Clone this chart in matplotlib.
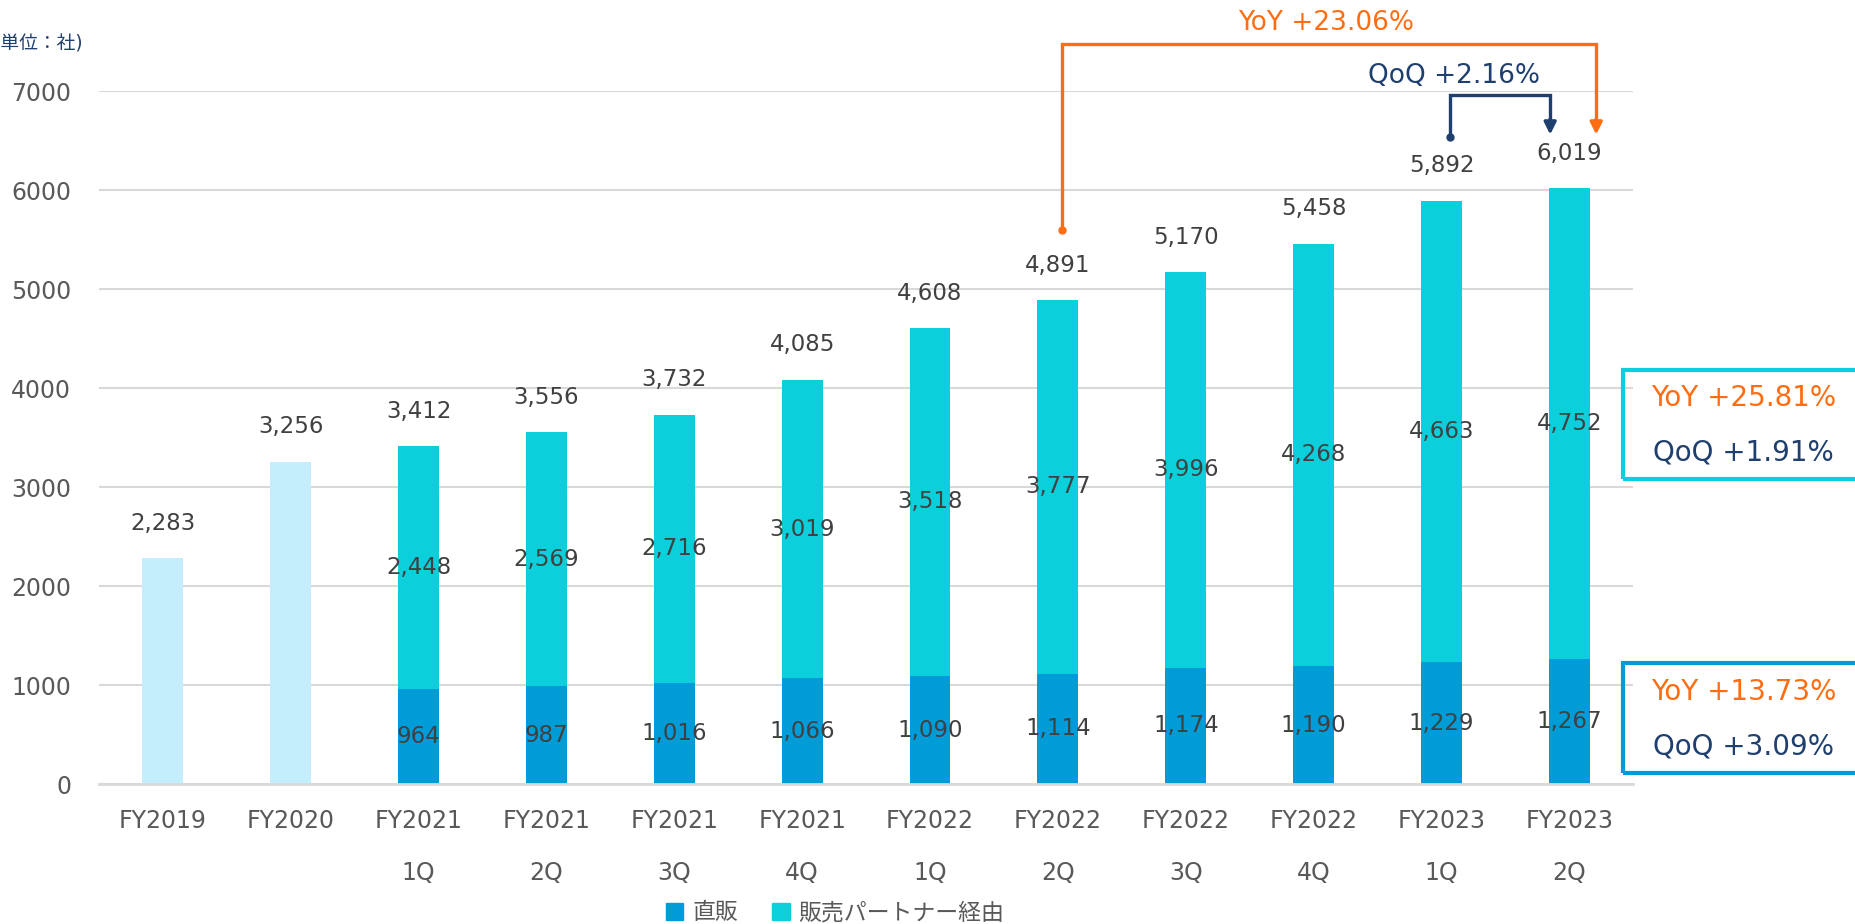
import matplotlib.pyplot as plt
import numpy as np
from matplotlib.patches import Patch, Rectangle

plt.rcParams['font.family'] = ['DejaVu Sans', 'Noto Sans CJK JP']

labels = ["FY2019", "FY2020", "FY2021\n1Q", "FY2021\n2Q", "FY2021\n3Q", "FY2021\n4Q",
          "FY2022\n1Q", "FY2022\n2Q", "FY2022\n3Q", "FY2022\n4Q", "FY2023\n1Q", "FY2023\n2Q"]
annual = [2283, 3256]  # FY2019, FY2020 totals only
direct = [964, 987, 1016, 1066, 1090, 1114, 1174, 1190, 1229, 1267]
partner = [2448, 2569, 2716, 3019, 3518, 3777, 3996, 4268, 4663, 4752]
totals = [2283, 3256, 3412, 3556, 3732, 4085, 4608, 4891, 5170, 5458, 5892, 6019]

c_light = '#C5EEFC'
c_direct = '#009CD8'
c_partner = '#0BCFDA'
c_orange = '#FF6D12'
c_navy = '#1F3F6E'
c_text = '#404040'

fig = plt.figure(figsize=(18.56, 9.24), dpi=100)
ax = fig.add_axes([0.0533, 0.1515, 0.8267, 0.75])

x = np.arange(len(labels))
w = 0.32
ax.bar(x[:2], annual, w, color=c_light, zorder=2)
ax.bar(x[2:], direct, w, color=c_direct, zorder=2)
ax.bar(x[2:], partner, w, bottom=direct, color=c_partner, zorder=2)

for xi, t in zip(x, totals):
    ax.annotate(f"{t:,}", (xi, t), xytext=(0, 25), textcoords='offset points',
                ha='center', va='center', fontsize=16.5, color=c_text)
for xi, d, p in zip(x[2:], direct, partner):
    ax.text(xi, d / 2, f"{d:,}", ha='center', va='center', fontsize=16.5, color=c_text, zorder=3)
    ax.text(xi, d + p / 2, f"{p:,}", ha='center', va='center', fontsize=16.5, color=c_text, zorder=3)

ax.set_xlim(-0.5, 11.5)
ax.set_ylim(0, 7000)
ax.set_yticks(range(0, 7001, 1000))
ax.set_xticks(x)
ax.set_xticklabels(labels, linespacing=2.45, va='top')
ax.tick_params(axis='both', length=0, labelsize=17, labelcolor='#595959')
ax.tick_params(axis='y', pad=20)
ax.tick_params(axis='x', pad=18)
ax.grid(axis='y', color='#D9D9D9', linewidth=1.5, zorder=0)
for s in ['top', 'right', 'left']:
    ax.spines[s].set_visible(False)
ax.spines['bottom'].set_color('#D9D9D9')
ax.spines['bottom'].set_linewidth(2)

arrow_kw = dict(arrowstyle='-|>', lw=2.4, mutation_scale=18, shrinkA=0, shrinkB=0)

# YoY arrow (orange)
ax.plot([7.03, 7.03, 11.21, 11.21], [5596, 7475, 7475, 6700], color=c_orange, lw=2.4,
        clip_on=False, solid_joinstyle='miter')
ax.plot(7.03, 5596, 'o', color=c_orange, ms=5, clip_on=False)
ax.annotate('', xy=(11.21, 6560), xytext=(11.21, 6720),
            arrowprops=dict(color=c_orange, **arrow_kw), annotation_clip=False)
ax.text(9.1, 7690, "YoY +23.06%", ha='center', va='center', fontsize=19, color=c_orange)

# QoQ arrow (navy)
ax.plot([10.07, 10.07, 10.85, 10.85], [6535, 6960, 6960, 6700], color=c_navy, lw=2.4,
        clip_on=False, solid_joinstyle='miter')
ax.plot(10.07, 6535, 'o', color=c_navy, ms=5, clip_on=False)
ax.annotate('', xy=(10.85, 6560), xytext=(10.85, 6720),
            arrowprops=dict(color=c_navy, **arrow_kw), annotation_clip=False)
ax.text(10.1, 7150, "QoQ +2.16%", ha='center', va='center', fontsize=19, color=c_navy,
        bbox=dict(facecolor='white', edgecolor='none', pad=0.5))

# side boxes
fig.patches.append(Rectangle((0.8745, 0.4816), 0.2, 0.118, transform=fig.transFigure,
                             fill=False, edgecolor=c_partner, lw=3))
fig.patches.append(Rectangle((0.8745, 0.1634), 0.2, 0.119, transform=fig.transFigure,
                             fill=False, edgecolor=c_direct, lw=3))
fig.text(0.9395, 0.569, "YoY +25.81%", ha='center', va='center', fontsize=20, color=c_orange)
fig.text(0.9395, 0.510, "QoQ +1.91%", ha='center', va='center', fontsize=20, color=c_navy)
fig.text(0.9395, 0.251, "YoY +13.73%", ha='center', va='center', fontsize=20, color=c_orange)
fig.text(0.9395, 0.192, "QoQ +3.09%", ha='center', va='center', fontsize=20, color=c_navy)

fig.text(0.0447, 0.952, "(単位：社)", ha='right', va='center', fontsize=13.5, color=c_navy)

handles = [Patch(color=c_direct, label='直販'), Patch(color=c_partner, label='販売パートナー経由')]
fig.legend(handles=handles, loc='center', bbox_to_anchor=(0.45, 0.012), ncol=2, frameon=False,
           fontsize=16.5, handlelength=0.75, handleheight=0.75, handletextpad=0.4,
           columnspacing=1.5, labelcolor='#595959')

fig.savefig('out.png', dpi=100)
